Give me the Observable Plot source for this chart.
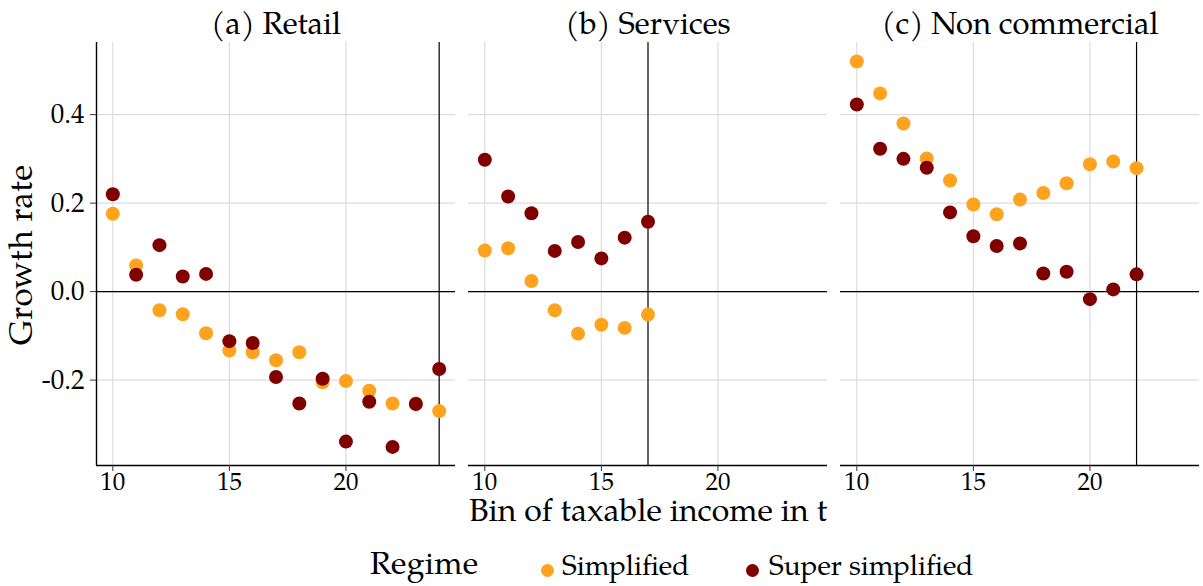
<!DOCTYPE html>
<html>
<head>
<meta charset="utf-8">
<script src="https://cdn.jsdelivr.net/npm/d3@7"></script>
<script src="https://cdn.jsdelivr.net/npm/@observablehq/plot@0.6"></script>
<style>
  html, body { margin: 0; padding: 0; background: white; }
  #wrap { position: relative; width: 1203px; height: 586px; overflow: hidden;
          font-family: 'Palatino Linotype', Palatino, 'TeX Gyre Pagella', 'Liberation Serif', serif; color: black; }
  #chart { position: absolute; left: 0; top: 0; }
  .abs { position: absolute; white-space: nowrap; line-height: 1; }
  .dot { position: absolute; border-radius: 50%; }
</style>
</head>
<body>
<div id="wrap">
  <div id="chart"></div>
</div>
<script>
// ---------- data ----------
const panels = ["Retail", "Services", "Non commercial"];
const panelTitles = ["(a) Retail", "(b) Services", "(c) Non commercial"];
const thresholds = [24, 17, 22];

const regimes = ["Simplified", "Super simplified"];
const regimeColors = ["#FFA31F", "#800000"];

const retailBins = [10, 11, 12, 13, 14, 15, 16, 17, 18, 19, 20, 21, 22, 23, 24];
const retailSimplified = [0.176, 0.059, -0.042, -0.051, -0.094, -0.133, -0.137, -0.155, -0.137, -0.205, -0.202, -0.224, -0.253, -0.253, -0.270];
const retailSuper = [0.220, 0.038, 0.105, 0.034, 0.040, -0.112, -0.116, -0.193, -0.253, -0.197, -0.339, -0.249, -0.351, -0.254, -0.175];

const servicesBins = [10, 11, 12, 13, 14, 15, 16, 17];
const servicesSimplified = [0.093, 0.098, 0.024, -0.042, -0.095, -0.075, -0.082, -0.052];
const servicesSuper = [0.298, 0.215, 0.177, 0.092, 0.112, 0.075, 0.122, 0.158];

const nonCommBins = [10, 11, 12, 13, 14, 15, 16, 17, 18, 19, 20, 21, 22];
const nonCommSimplified = [0.520, 0.448, 0.380, 0.301, 0.251, 0.197, 0.175, 0.208, 0.223, 0.245, 0.288, 0.294, 0.279];
const nonCommSuper = [0.423, 0.323, 0.300, 0.280, 0.179, 0.125, 0.103, 0.109, 0.041, 0.045, -0.017, 0.005, 0.039];

const xDomain = [9.3, 24.7];
const yDomain = [-0.393, 0.563];
const xTicks = [10, 15, 20];
const yTicks = [-0.2, 0.0, 0.2, 0.4];
const xLabel = "Bin of taxable income in t";
const yLabel = "Growth rate";
const legendTitle = "Regime";

// ---------- build table ----------
function rows(panel, bins, vals, regime) {
  return bins.map((b, i) => ({panel, bin: b, value: vals[i], regime}));
}
const simplifiedRows = [
  ...rows("Retail", retailBins, retailSimplified, "Simplified"),
  ...rows("Services", servicesBins, servicesSimplified, "Simplified"),
  ...rows("Non commercial", nonCommBins, nonCommSimplified, "Simplified")
];
const superRows = [
  ...rows("Retail", retailBins, retailSuper, "Super simplified"),
  ...rows("Services", servicesBins, servicesSuper, "Super simplified"),
  ...rows("Non commercial", nonCommBins, nonCommSuper, "Super simplified")
];
const thresholdRows = panels.map((p, i) => ({panel: p, bin: thresholds[i]}));
const leftAxisRows = [{panel: panels[0], x: xDomain[0]}];

const fmtY = d => (d < 0 ? "-" : "") + Math.abs(d).toFixed(1);

const chart = Plot.plot({
  width: 1203,
  height: 512,
  marginLeft: 95,
  marginRight: 4,
  marginTop: 42,
  marginBottom: 47,
  style: {fontFamily: "'Palatino Linotype', Palatino, 'TeX Gyre Pagella', 'Liberation Serif', serif", background: "white", color: "black", overflow: "visible"},
  fx: {domain: panels, paddingInner: 0.036, paddingOuter: 0, label: null},
  x: {domain: xDomain, label: null},
  y: {domain: yDomain, label: null},
  marks: [
    Plot.gridX(xTicks, {stroke: "#dcdcdc", strokeOpacity: 1, strokeWidth: 1.2}),
    Plot.gridY(yTicks, {stroke: "#dcdcdc", strokeOpacity: 1, strokeWidth: 1.2}),
    Plot.ruleY([0], {stroke: "black", strokeWidth: 1.2}),
    Plot.ruleX(thresholdRows, {x: "bin", fx: "panel", stroke: "black", strokeWidth: 1.2}),
    Plot.dot(simplifiedRows, {x: "bin", y: "value", fx: "panel", fill: regimeColors[0], r: 7}),
    Plot.dot(superRows, {x: "bin", y: "value", fx: "panel", fill: regimeColors[1], r: 7}),
    // axis lines
    Plot.ruleY([yDomain[0]], {stroke: "black", strokeWidth: 1.4}),
    Plot.ruleX(leftAxisRows, {x: "x", fx: "panel", stroke: "black", strokeWidth: 1.4}),
    Plot.axisX({ticks: xTicks, tickSize: 6, tickPadding: 1, fontSize: 25, label: null, stroke: "#333", strokeOpacity: 1}),
    Plot.axisY({ticks: yTicks, tickSize: 6, tickPadding: 6, fontSize: 27, label: null, tickFormat: fmtY, stroke: "#333", strokeOpacity: 1}),
    Plot.axisFx({anchor: "top", tickSize: 0, tickPadding: 9, fontSize: 31, label: null,
                 tickFormat: d => panelTitles[panels.indexOf(d)]})
  ]
});
document.getElementById("chart").appendChild(chart);

// ---------- titles & legend (outside / around svg) ----------
const wrap = document.getElementById("wrap");
function addText(txt, left, top, size, spacing, extra) {
  const s = document.createElement("div");
  s.className = "abs";
  s.textContent = txt;
  s.style.left = left + "px";
  s.style.top = top + "px";
  s.style.fontSize = size + "px";
  s.style.letterSpacing = spacing + "px";
  if (extra) Object.assign(s.style, extra);
  wrap.appendChild(s);
  return s;
}
// y label (rotated)
addText(yLabel, 24, 255, 33, 0.3, {transform: "translate(-50%,-50%) rotate(-90deg)"});
// x label
addText(xLabel, 469, 501.5, 32, 0, {lineHeight: "0.8"});
// legend
addText(legendTitle, 370, 551, 32, 0.3);
const dotX = [547, 752];
const textX = [562, 769];
regimes.forEach((r, i) => {
  const d = document.createElement("div");
  d.className = "dot";
  d.style.left = (dotX[i] - 6.5) + "px";
  d.style.top = (570 - 6.5) + "px";
  d.style.width = "13px";
  d.style.height = "13px";
  d.style.background = regimeColors[i];
  wrap.appendChild(d);
  addText(r, textX[i], 554.5, 28, 0);
});
</script>
</body>
</html>
